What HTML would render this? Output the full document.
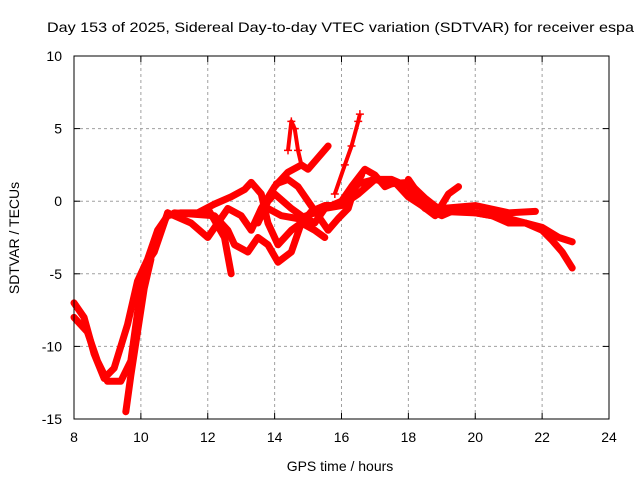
<!DOCTYPE html>
<html><head><meta charset="utf-8"><style>
body{margin:0;background:#fff}
svg{display:block;font-family:"Liberation Sans",sans-serif;font-size:14px}
</style></head><body>
<svg id="chart" width="640" height="480">
<rect width="640" height="480" fill="#fff"/>
<text x="47" y="32" textLength="587" lengthAdjust="spacingAndGlyphs">Day 153 of 2025, Sidereal Day-to-day VTEC variation (SDTVAR) for receiver espa</text>
<g id="grid"></g>
<g id="series"></g>
<rect x="74" y="56" width="535" height="363" fill="none" stroke="#000" stroke-width="1"/>
<g id="axes"></g>
<text x="340" y="471" text-anchor="middle">GPS time / hours</text>
<text transform="translate(19,238) rotate(-90)" text-anchor="middle">SDTVAR / TECUs</text>
</svg>
<script>
const xTicks=[8,10,12,14,16,18,20,22,24];
const yTicks=[10,5,0,-5,-10,-15];
const t1h=[8.0,8.3,8.6,8.9,9.2,9.6,9.9,10.2,10.5,10.8,11.2,11.7,12.2,12.7,13.1,13.3,13.6,13.8,14.1,14.5,14.8,15.2,15.5];
const t1v=[-7,-8,-10.5,-12.2,-11.5,-8.5,-5.5,-4,-2,-1,-0.8,-0.8,-0.2,0.3,0.8,1.3,0.5,-1.5,-3,-2,-1.5,-2,-2.5];
const t2h=[8.0,8.4,8.7,9.0,9.4,9.7,10.0,10.1,10.4,10.8];
const t2v=[-8,-9,-11,-12.4,-12.4,-11,-6,-4.5,-3.5,-0.8];
const t3h=[9.55,9.7,9.9,10.1,10.3];
const t3v=[-14.5,-12,-9,-6,-4];
const t4h=[10.8,11.5,12,12.3,12.6,13,13.3,13.6,14,14.4,14.8,15,15.3,15.6];
const t4v=[-0.8,-1.5,-2.5,-1.5,-0.5,-1,-2,-0.5,1,2,2.5,2.2,3,3.8];
const t5h=[11,12.2,12.6,12.8,13.2,13.5,13.8,14.1,14.5,14.8,15.1,15.5,16,16.5,17,17.5,18,18.5,19,19.5,20,21,21.5,22,22.5,22.9];
const t5v=[-0.8,-1,-2,-3,-3.5,-2.5,-3,-4.2,-3.5,-1.5,-0.7,-0.3,-0.3,0.5,1.5,1.5,1,-0.5,-1,-0.5,-0.8,-1.2,-1.5,-1.8,-2.5,-2.8];
const t6h=[12,12.5,12.7];
const t6v=[-0.5,-2.5,-5];
const t7h=[13.5,13.8,14,14.5,14.8,15.2,15.5,16,16.3,16.7,17,17.3,17.6,18,18.4,18.8,19.2,19.5];
const t7v=[-1.5,0,0.5,-0.5,-1,-1.5,-0.5,0,1,2.2,1.8,1,1.3,0.3,-0.3,-1,0.5,1];
const t8h=[13.8,14.2,14.7,15.2,15.5,16,16.5,17,17.5,18,18.5,19,20,20.5,21,21.5,22,22.3,22.6,22.9];
const t8v=[-0.5,-1,-1.2,-0.8,-0.5,-0.3,1.2,1.5,1.2,1.3,0.2,-0.7,-0.8,-1,-1.5,-1.5,-2,-2.7,-3.5,-4.6];
const t9h=[14.05,14.4,14.7,15,15.3,15.6,15.9,16.2,16.4,16.6];
const t9v=[1.2,1.5,1,0,-1,-2,-1.2,-0.5,1,1.8];
const t10h=[18,18.3,18.6,19,20,21,21.8];
const t10v=[1.5,0.5,-0.3,-0.5,-0.3,-0.8,-0.7];
const s1h=[14.4,14.5,14.6,14.7,14.8];
const s1v=[3.5,5.5,5,3.5,2.5];
const s2h=[15.8,16.1,16.3,16.5,16.55];
const s2v=[0.5,2.5,3.8,5.5,6];
const tracks=[[t1h,t1v],[t2h,t2v],[t3h,t3v],[t4h,t4v],[t5h,t5v],[t6h,t6v],[t7h,t7v],[t8h,t8v],[t9h,t9v],[t10h,t10v]];
const spikes=[[s1h,s1v],[s2h,s2v]];
const NS="http://www.w3.org/2000/svg";
const X=h=>74+(h-8)*535/16;
const Y=v=>56+(10-v)*363/25;
function mk(t,a,p){const e=document.createElementNS(NS,t);for(const k in a)e.setAttribute(k,a[k]);p.appendChild(e);return e;}
const grid=document.getElementById('grid'),axes=document.getElementById('axes'),ser=document.getElementById('series');
xTicks.forEach(t=>{const x=X(t);
 if(t>8&&t<24){const l=mk('line',{x1:x,x2:x,y1:56,y2:419,stroke:'#a0a0a0','stroke-dasharray':'3,3'},grid);
 
 }
 mk('line',{x1:x,x2:x,y1:419,y2:413,stroke:'#000'},axes);mk('line',{x1:x,x2:x,y1:56,y2:62,stroke:'#000'},axes);
 const tx=mk('text',{x:x,y:442,'text-anchor':'middle'},axes);tx.textContent=t;
 
 
});
yTicks.forEach(t=>{const y=Y(t);
 if(t<10&&t>-15){const l=mk('line',{x1:74,x2:609,y1:y,y2:y,stroke:'#a0a0a0','stroke-dasharray':'3,3'},grid);
 
 }
 mk('line',{x1:74,x2:80,y1:y,y2:y,stroke:'#000'},axes);mk('line',{x1:609,x2:603,y1:y,y2:y,stroke:'#000'},axes);
 const tx=mk('text',{x:62,y:y+5,'text-anchor':'end'},axes);tx.textContent=t;
 
 
});
tracks.forEach(([h,v])=>{
 const p=mk('polyline',{points:h.map((x,i)=>X(x)+','+Y(v[i])).join(' '),fill:'none',stroke:'#ff0000','stroke-width':7,'stroke-linejoin':'round','stroke-linecap':'round'},ser);
 
 
});
spikes.forEach(([h,v])=>{
 const p=mk('polyline',{points:h.map((x,i)=>X(x)+','+Y(v[i])).join(' '),fill:'none',stroke:'#ff0000','stroke-width':4,'stroke-linejoin':'round'},ser);
 
 
 h.forEach((x,i)=>{const cx=X(x),cy=Y(v[i]);
  mk('path',{d:`M${cx-4},${cy}H${cx+4}M${cx},${cy-4}V${cy+4}`,stroke:'#ff0000','stroke-width':1.5},ser);});
});
</script>
</body></html>
